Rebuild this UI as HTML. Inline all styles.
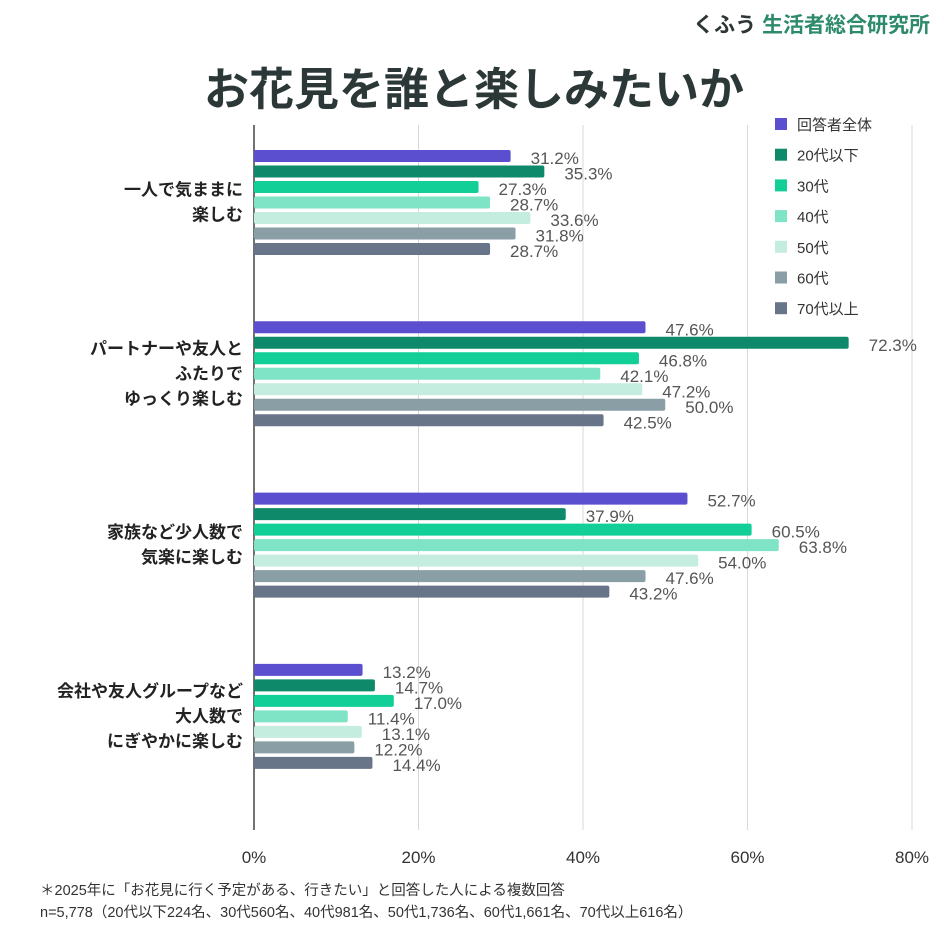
<!DOCTYPE html>
<html><head><meta charset="utf-8"><style>
body{margin:0;background:#fff;width:944px;height:944px;overflow:hidden;font-family:"Liberation Sans","Noto Sans CJK JP",sans-serif;}
</style></head><body>
<svg id="chart" width="944" height="944" xmlns="http://www.w3.org/2000/svg" font-family="Liberation Sans, Noto Sans CJK JP, sans-serif">
<text x="930" y="32" text-anchor="end" font-size="21" font-weight="bold"><tspan fill="#2d3535">くふう </tspan><tspan fill="#2e8a6c">生活者総合研究所</tspan></text>
<text x="474" y="105" text-anchor="middle" font-size="45" font-weight="bold" fill="#2c3838">お花見を誰と楽しみたいか</text>
<g id="grid"></g><g id="bars"></g><g id="legend"></g>
<text x="40" y="895" font-size="14.5" fill="#333">＊2025年に「お花見に行く予定がある、行きたい」と回答した人による複数回答</text>
<text x="40" y="917" font-size="14.5" fill="#333">n=5,778（20代以下224名、30代560名、40代981名、50代1,736名、60代1,661名、70代以上616名）</text>
</svg>
<script>
const categories=[["一人で気ままに","楽しむ"],["パートナーや友人と","ふたりで","ゆっくり楽しむ"],["家族など少人数で","気楽に楽しむ"],["会社や友人グループなど","大人数で","にぎやかに楽しむ"]];
const seriesNames=["回答者全体","20代以下","30代","40代","50代","60代","70代以上"];
const v0=[31.2,47.6,52.7,13.2];
const v1=[35.3,72.3,37.9,14.7];
const v2=[27.3,46.8,60.5,17.0];
const v3=[28.7,42.1,63.8,11.4];
const v4=[33.6,47.2,54.0,13.1];
const v5=[31.8,50.0,47.6,12.2];
const v6=[28.7,42.5,43.2,14.4];
const ticks=[0,20,40,60,80];
const series=[v0,v1,v2,v3,v4,v5,v6];
const colors=["#5b4fcf","#0e8a6b","#12cf97","#7fe3c5","#c4ecdf","#8a9ea6","#687488"];
const NS="http://www.w3.org/2000/svg";
const x=v=>254+v*(912-254)/80;
const gY=i=>150+i*171.3;
function mk(t,a,p){const e=document.createElementNS(NS,t);for(const k in a)e.setAttribute(k,a[k]);p.appendChild(e);return e;}
const grid=document.getElementById('grid'),bars=document.getElementById('bars'),leg=document.getElementById('legend');
ticks.forEach(t=>{
 if(t>0){const l=mk('line',{x1:x(t),x2:x(t),y1:125,y2:830,stroke:'#d8d8d8','stroke-width':1},grid);
 
 }
 const tx=mk('text',{x:x(t),y:863,'text-anchor':'middle','font-size':17,fill:'#333'},grid);tx.textContent=t+'%';
 
 
});
const ax=mk('line',{x1:254,x2:254,y1:125,y2:830,stroke:'#444','stroke-width':1.5},grid);


categories.forEach((c,ci)=>{
 const center=gY(ci)+52;
 c.forEach((ln,li)=>{const t=mk('text',{x:243,y:center+(li-(c.length-1)/2)*25+6,'text-anchor':'end','font-size':17,'font-weight':'bold',fill:'#222'},bars);t.textContent=ln;
 
 });
 series.forEach((s,si)=>{
  const y=gY(ci)+si*15.5;
  const r=mk('rect',{x:254,y:y,width:x(s[ci])-254,height:12,rx:2,fill:colors[si]},bars);
  
  
  const t=mk('text',{x:x(s[ci])+20,y:y+14,'font-size':17,fill:'#555'},bars);t.textContent=s[ci].toFixed(1)+'%';
  
  
 });
});
seriesNames.forEach((n,i)=>{
 const y=118+i*30.7;
 const r=mk('rect',{x:775,y:y,width:12,height:12,fill:colors[i]},leg);
 
 
 const t=mk('text',{x:797,y:y+12,'font-size':15,fill:'#333'},leg);t.textContent=n;
 
 
});
</script>
</body></html>
